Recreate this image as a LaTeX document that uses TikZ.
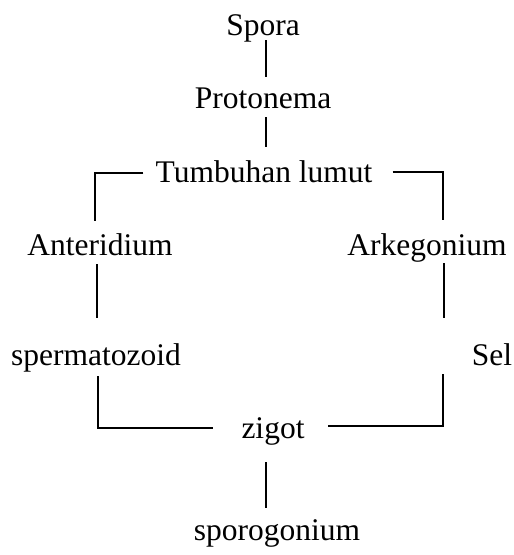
\documentclass[tikz,border=0pt]{standalone}
\usepackage{fontspec}
\setmainfont{Liberation Serif}
\begin{document}
\begin{tikzpicture}[x=1pt,y=-1pt,
  lbl/.style={inner sep=0pt,anchor=base,font=\fontsize{31.5}{36}\selectfont},
  conn/.style={line width=1.3pt}]
\useasboundingbox (0,0) rectangle (514,555);
\node[lbl] (spora) at (263,35) {Spora};
\node[lbl] (proto) at (263,108) {Protonema};
\node[lbl] (tum) at (264,182) {Tumbuhan lumut};
\node[lbl] (anter) at (100,255) {Anteridium};
\node[lbl] (arkeg) at (427,255) {Arkegonium};
\node[lbl] (sperm) at (96,365) {spermatozoid};
\node[lbl] (sel) at (492,365) {Sel};
\node[lbl] (zigot) at (273,438) {zigot};
\node[lbl] (sporog) at (277,540) {sporogonium};

\draw[conn] ([shift={(3,5)}]spora.base) -- ([shift={(3,-31)}]proto.base);
\draw[conn] ([shift={(3,9)}]proto.base) -- ([shift={(2,-35)}]tum.base);
\draw[conn] ([shift={(-12,-9)}]tum.base west) -| ([shift={(-5,-34)}]anter.base);
\draw[conn] ([shift={(20,-10)}]tum.base east) -| ([shift={(16,-35)}]arkeg.base);
\draw[conn] ([shift={(-3,9)}]anter.base) -- ([shift={(1,-47)}]sperm.base);
\draw[conn] ([shift={(17,8)}]arkeg.base) -- ([shift={(-48,-47)}]sel.base);
\draw[conn] ([shift={(2,11)}]sperm.base) |- ([shift={(-60,-10)}]zigot.base);
\draw[conn] ([shift={(-49,9)}]sel.base) |- ([shift={(55,-12)}]zigot.base);
\draw[conn] ([shift={(-7,24)}]zigot.base) -- ([shift={(-11,-32)}]sporog.base);
\end{tikzpicture}
\end{document}
